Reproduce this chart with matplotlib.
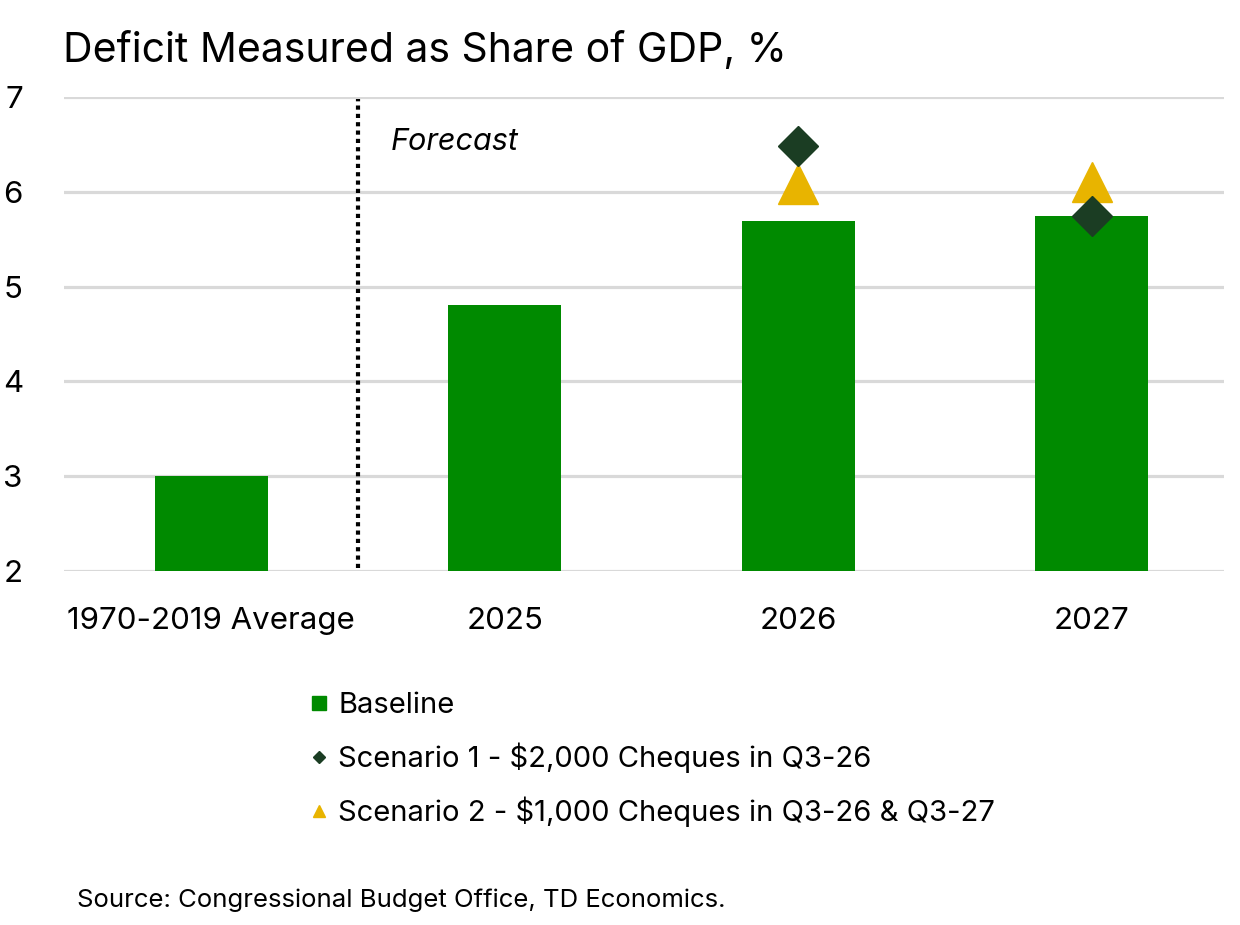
import matplotlib.pyplot as plt
from matplotlib.lines import Line2D

plt.rcParams['font.family'] = ['Inter', 'DejaVu Sans']

categories = ["1970-2019 Average", "2025", "2026", "2027"]
baseline = [3.0, 4.81, 5.69, 5.74]
scen1_cats = [2, 3]
scen1 = [6.48, 5.74]
scen2_cats = [2, 3]
scen2 = [6.08, 6.10]

bar_color = "#008A00"
s1_color = "#1B3D23"
s2_color = "#E8B400"

fig = plt.figure(figsize=(12.4, 9.25), dpi=100)
ax = fig.add_axes([0.052, 0.383, 0.935, 0.512])

x = range(len(categories))
ax.bar(x, baseline, width=0.385, color=bar_color, zorder=2)
ax.plot(scen1_cats, scen1, linestyle="none", marker="D", markersize=20,
        color=s1_color, zorder=4)
ax.plot(scen2_cats, scen2, linestyle="none", marker="^", markersize=29,
        color=s2_color, zorder=3)

# forecast divider
ax.axvline(0.5, ymin=0.005, ymax=0.995, color="black", linestyle=(0, (1, 1)),
           linewidth=3, zorder=3)
ax.text(0.61, 6.53, "Forecast", fontsize=22, style="italic", va="center")

ax.set_ylim(2, 7)
ax.set_xlim(-0.5, 3.45)
ax.set_yticks([2, 3, 4, 5, 6, 7])
ax.set_xticks(list(x))
ax.set_xticklabels(categories, fontsize=22.5)
ax.tick_params(axis="y", labelsize=22.5, length=0, pad=30)
ax.tick_params(axis="x", length=0, pad=26)
ax.grid(axis="y", color="#D9D9D9", linewidth=2.3, zorder=0)
ax.set_axisbelow(True)
for s in ax.spines.values():
    s.set_visible(False)

fig.text(0.051, 0.945, "Deficit Measured as Share of GDP, %", fontsize=29.5,
         va="center")

handles = [
    Line2D([], [], linestyle="none", marker="s", markersize=10, color=bar_color),
    Line2D([], [], linestyle="none", marker="D", markersize=6, color=s1_color),
    Line2D([], [], linestyle="none", marker="^", markersize=8, color=s2_color),
]
labels = ["Baseline", "Scenario 1 - $2,000 Cheques in Q3-26",
          "Scenario 2 - $1,000 Cheques in Q3-26 & Q3-27"]
fig.legend(handles, labels, loc="upper left", bbox_to_anchor=(0.241, 0.264),
           frameon=False, fontsize=21, handlelength=0.6, handletextpad=0.35,
           labelspacing=0.8, borderaxespad=0)

fig.text(0.062, 0.027, "Source: Congressional Budget Office, TD Economics.",
         fontsize=18.5, va="center")

fig.savefig("out.png", dpi=100)
